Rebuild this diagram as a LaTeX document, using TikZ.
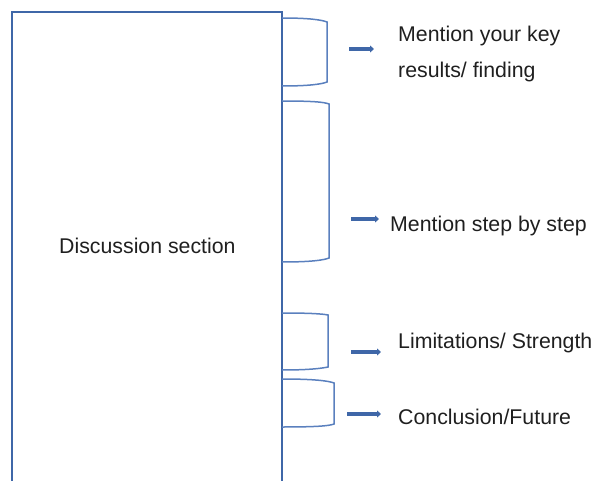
\documentclass[tikz,border=0pt]{standalone}
\usepackage{fontspec}
\setmainfont{Liberation Sans}
\usetikzlibrary{arrows.meta}
\definecolor{edge}{HTML}{3F67A8}
\definecolor{brace}{HTML}{5A80BE}
\tikzset{
  lbl/.style={anchor=base west, inner sep=0pt, font=\fontsize{21.3}{25}\selectfont, text=black!88},
  box/.style={draw=edge, line width=2.2pt},
  brk/.style={draw=brace, line width=1.5pt},
  arr/.style={draw=edge, line width=3.4pt, -{Triangle[length=4pt,width=7pt]}}
}
\begin{document}
\begin{tikzpicture}[x=1pt,y=-1pt]
\useasboundingbox (0,0) rectangle (597,481);
\clip (0,0) rectangle (597,481);
\node[box, minimum width=270pt, minimum height=500pt, anchor=north west, inner sep=0pt] (disc) at (11,11) {};
\node[lbl] (dtxt) at (59,254) {Discussion section};
% brackets
\draw[brk] (282,18) .. controls (310,18) and (322,20) .. (327,22) -- (327,82) .. controls (322,84) and (310,86) .. (282,86);
\draw[brk] (282,101) .. controls (312,101) and (324,102) .. (329,104) -- (329,258) .. controls (324,260) and (312,262) .. (282,262);
\draw[brk] (282,313) .. controls (312,313) and (323,314) .. (328,315) -- (328,367) .. controls (323,368) and (312,370) .. (282,370);
\draw[brk] (282,379) .. controls (315,379) and (329,381) .. (334,383) -- (334,424) .. controls (329,426) and (315,427) .. (282,427);
% arrows
\coordinate (a1s) at (349,49); \coordinate (a1e) at (374,49);
\coordinate (a2s) at (351,219); \coordinate (a2e) at (379,219);
\coordinate (a3s) at (351,352); \coordinate (a3e) at (381,352);
\coordinate (a4s) at (347,414); \coordinate (a4e) at (381,414);
\draw[arr] (a1s) -- (a1e);
\draw[arr] (a2s) -- (a2e);
\draw[arr] (a3s) -- (a3e);
\draw[arr] (a4s) -- (a4e);
% labels
\node[lbl] (t1a) at (398,42) {Mention your key};
\node[lbl] (t1b) at (398,78) {results/ finding};
\node[lbl] (t2) at (390,232) {Mention step by step};
\node[lbl] (t3) at (398,348) {Limitations/ Strength};
\node[lbl] (t4) at (398,424) {Conclusion/Future};
\end{tikzpicture}
\end{document}
